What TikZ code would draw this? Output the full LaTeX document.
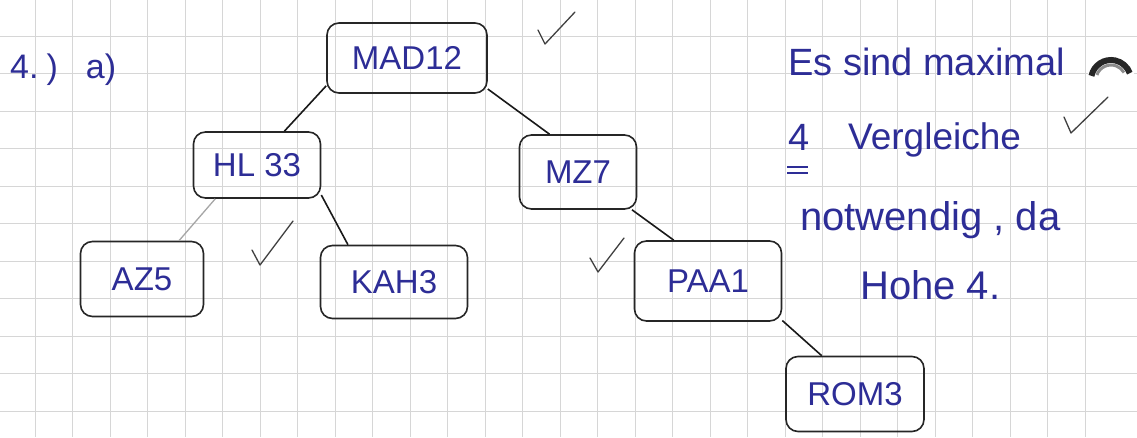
\documentclass[tikz,border=0pt]{standalone}
\usepackage{fontspec}
\setmainfont{Liberation Sans}
\definecolor{ink}{RGB}{45,45,150}
\definecolor{gridc}{RGB}{214,214,214}
\begin{document}
\begin{tikzpicture}[x=1pt,y=-1pt,
  box/.style={draw=black!85,line width=1.6pt,rounded corners=12pt,text=ink,
    font=\fontsize{33}{35}\selectfont,inner sep=0pt},
  edge/.style={draw=black!90,line width=1.6pt},
  lightedge/.style={draw=black!35,line width=1.3pt},
  check/.style={draw=black!75,line width=1.3pt,line join=round,line cap=round},
  hand/.style={text=ink,font=\fontsize{38}{40}\selectfont,inner sep=0pt}]
\useasboundingbox (0,0) rectangle (1137,437);
\fill[white] (0,0) rectangle (1137,437);
% grid
\foreach \x in {0,...,29} {\draw[gridc,line width=1pt] ({-2.5+37.5*\x},0) -- ({-2.5+37.5*\x},437);}
\foreach \y in {0,...,11} {\draw[gridc,line width=1pt] (0,{-1.5+37.5*\y}) -- (1137,{-1.5+37.5*\y});}
% punch hole
\fill[white] (1111,80) circle (24);
\draw[black!85,line width=6pt] ([shift={(192:20)}]1111,80) arc (192:340:20);
\draw[black!45,line width=3pt] ([shift={(200:15)}]1111,80) arc (200:330:15);
% nodes
\node[box,minimum width=160pt,minimum height=70pt] (mad) at (407,58) {MAD12};
\node[box,minimum width=127pt,minimum height=66pt] (hl) at (257,165) {HL 33};
\node[box,minimum width=117pt,minimum height=74pt] (mz) at (578,172) {MZ7};
\node[box,minimum width=123pt,minimum height=75pt] (az) at (142,279) {AZ5};
\node[box,minimum width=147pt,minimum height=73pt] (kah) at (394,282) {KAH3};
\node[box,minimum width=147pt,minimum height=80pt] (paa) at (708,281) {PAA1};
\node[box,minimum width=138pt,minimum height=75pt] (rom) at (855,394) {ROM3};
% edges
\draw[edge] (mad.199) -- (hl.51);
\draw[edge] (mad.339) -- (mz.127);
\draw[lightedge] (hl.219) -- (az.46);
\draw[edge] (hl.335) -- (kah.141);
\draw[edge] (mz.325) -- (paa.130);
\draw[edge] (paa.332) -- (rom.131);
% checkmarks
\draw[check] (538,30) -- (545,44) -- (575,12);
\draw[check] (252,250) -- (260,265) -- (293,221);
\draw[check] (590,258) -- (598,272) -- (624,238);
\draw[check] (1064,117) -- (1071,133) -- (1108,97);
% texts
\node[hand,anchor=west,font=\fontsize{34}{36}\selectfont] (num) at (10,70) {4.\hspace{8pt})\hspace{28pt}a)};
\node[hand,anchor=west,font=\fontsize{38}{40}\selectfont] (l1) at (788,62) {Es sind maximal};
\node[hand] (four) at (799,137) {4};
\draw[ink,line width=1.4pt] (787,167) -- (808,167) (787,173) -- (808,173);
\node[hand,anchor=west,font=\fontsize{37}{39}\selectfont] (l2) at (848,140) {Vergleiche};
\node[hand,anchor=west,font=\fontsize{40}{42}\selectfont] (l3) at (800,220) {notwendig , da};
\node[hand,anchor=west,font=\fontsize{40}{42}\selectfont] (l4) at (860,285) {Hohe 4.};
\end{tikzpicture}
\end{document}
